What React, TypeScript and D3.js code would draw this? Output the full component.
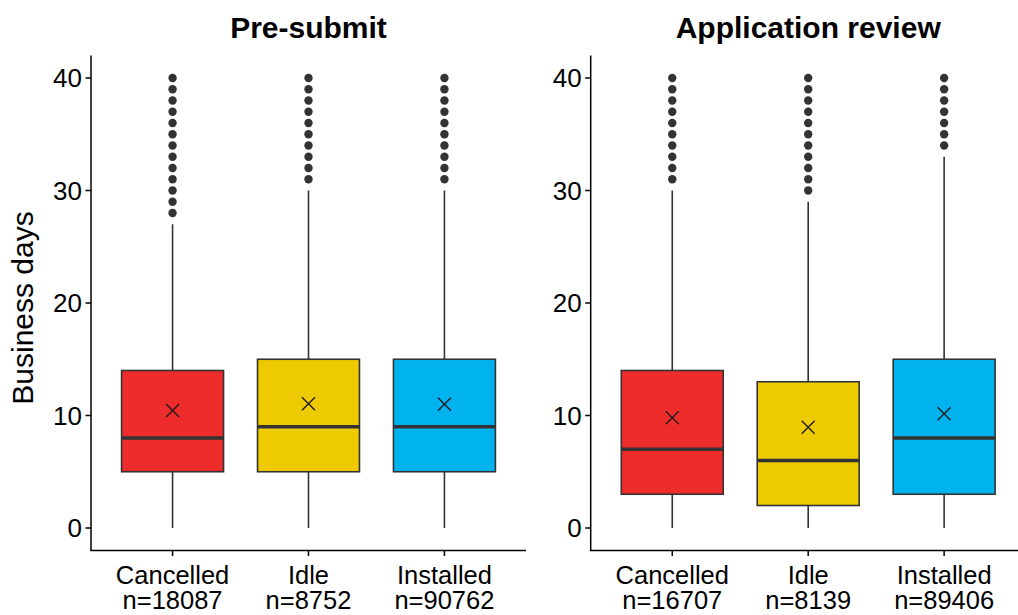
import React from "react";
import * as d3 from "d3";

const panelTitles = ["Pre-submit", "Application review"];
const categories = ["Cancelled", "Idle", "Installed"];
const colors = ["#EE2C2C", "#EECA00", "#00B2EE"];
const yTicks = [0, 10, 20, 30, 40];

// per panel, per category
const counts = [
  [18087, 8752, 90762],
  [16707, 8139, 89406],
];
const whiskerLow = [
  [0, 0, 0],
  [0, 0, 0],
];
const q1 = [
  [5, 5, 5],
  [3, 2, 3],
];
const median = [
  [8, 9, 9],
  [7, 6, 8],
];
const q3 = [
  [14, 15, 15],
  [14, 13, 15],
];
const whiskerHigh = [
  [27, 30, 30],
  [30, 29, 33],
];
const means = [
  [10.45, 11.05, 11.0],
  [9.8, 8.95, 10.15],
];
const outliers = [
  [
    [28, 29, 30, 31, 32, 33, 34, 35, 36, 37, 38, 39, 40],
    [31, 32, 33, 34, 35, 36, 37, 38, 39, 40],
    [31, 32, 33, 34, 35, 36, 37, 38, 39, 40],
  ],
  [
    [31, 32, 33, 34, 35, 36, 37, 38, 39, 40],
    [30, 31, 32, 33, 34, 35, 36, 37, 38, 39, 40],
    [34, 35, 36, 37, 38, 39, 40],
  ],
];

const W = 1018;
const H = 615;
const FONT = "'Liberation Sans', Arial, sans-serif";
const panelLefts = [91, 590.7];
const panelWidth = 435;
const top = 55.5;
const bottom = 550.5;

export default function App() {
  const y = d3.scaleLinear().domain([-2, 42]).range([bottom, top]);
  const ink = "#333333";

  return (
    <svg
      width={W}
      height={H}
      style={{ position: "absolute", left: 0, top: 0, background: "#fff" }}
      fontFamily={FONT}
    >
      <text
        transform={`translate(33, ${308}) rotate(-90)`}
        textAnchor="middle"
        fontSize={30}
        fill="#000"
      >
        Business days
      </text>
      {panelTitles.map((title, p) => {
        const left = panelLefts[p];
        const x = d3
          .scaleBand()
          .domain(categories)
          .range([left, left + panelWidth])
          .paddingInner(0.25)
          .paddingOuter(0.225);
        const bw = x.bandwidth();
        return (
          <g key={title}>
            <text
              x={left + panelWidth / 2}
              y={38}
              textAnchor="middle"
              fontSize={30}
              fontWeight="bold"
              fill="#000"
            >
              {title}
            </text>
            {categories.map((c, i) => {
              const x0 = x(c)!;
              const cx = x0 + bw / 2;
              const m = means[p][i];
              const s = 6.5;
              return (
                <g key={c}>
                  <line
                    x1={cx}
                    x2={cx}
                    y1={y(whiskerLow[p][i])}
                    y2={y(q1[p][i])}
                    stroke={ink}
                    strokeWidth={1.6}
                  />
                  <line
                    x1={cx}
                    x2={cx}
                    y1={y(q3[p][i])}
                    y2={y(whiskerHigh[p][i])}
                    stroke={ink}
                    strokeWidth={1.6}
                  />
                  <rect
                    x={x0}
                    y={y(q3[p][i])}
                    width={bw}
                    height={y(q1[p][i]) - y(q3[p][i])}
                    fill={colors[i]}
                    stroke={ink}
                    strokeWidth={1.6}
                  />
                  <line
                    x1={x0}
                    x2={x0 + bw}
                    y1={y(median[p][i])}
                    y2={y(median[p][i])}
                    stroke={ink}
                    strokeWidth={3.5}
                  />
                  <path
                    d={`M${cx - s},${y(m) - s}L${cx + s},${y(m) + s}M${cx - s},${y(m) + s}L${cx + s},${y(m) - s}`}
                    stroke="#1a1a1a"
                    strokeWidth={1.3}
                    fill="none"
                  />
                  {outliers[p][i].map((v) => (
                    <circle key={v} cx={cx} cy={y(v)} r={4.2} fill={ink} />
                  ))}
                  <line
                    x1={cx}
                    x2={cx}
                    y1={bottom}
                    y2={bottom + 5.5}
                    stroke="#000"
                    strokeWidth={1.5}
                  />
                  <text
                    x={cx}
                    y={584}
                    textAnchor="middle"
                    fontSize={25.5}
                    fill="#000"
                  >
                    {c}
                  </text>
                  <text
                    x={cx}
                    y={609}
                    textAnchor="middle"
                    fontSize={25.5}
                    fill="#000"
                  >
                    {`n=${counts[p][i]}`}
                  </text>
                </g>
              );
            })}
            <line
              x1={left}
              x2={left}
              y1={top}
              y2={bottom}
              stroke="#000"
              strokeWidth={1.5}
            />
            <line
              x1={left - 0.75}
              x2={left + panelWidth}
              y1={bottom}
              y2={bottom}
              stroke="#000"
              strokeWidth={1.5}
            />
            {yTicks.map((t) => (
              <g key={t}>
                <line
                  x1={left - 5.5}
                  x2={left}
                  y1={y(t)}
                  y2={y(t)}
                  stroke="#000"
                  strokeWidth={1.5}
                />
                <text
                  x={left - 9}
                  y={y(t)}
                  dy="0.36em"
                  textAnchor="end"
                  fontSize={26}
                  fill="#000"
                >
                  {t}
                </text>
              </g>
            ))}
          </g>
        );
      })}
    </svg>
  );
}
